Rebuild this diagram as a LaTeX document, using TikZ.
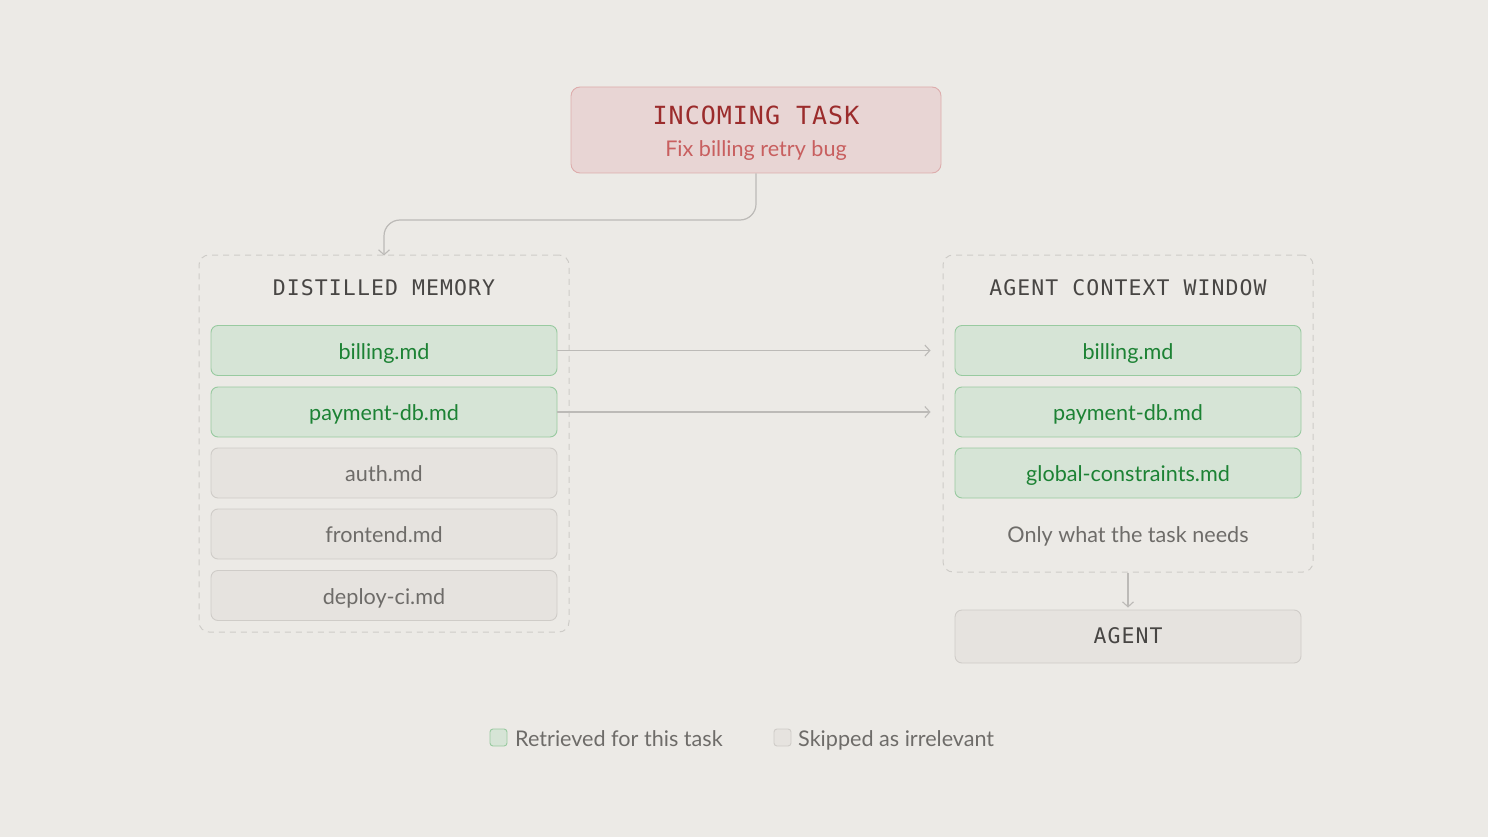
\documentclass[tikz,border=0pt]{standalone}
\usepackage{fontspec}
\setmainfont{Lato}
\newfontfamily\monofont{DejaVu Sans Mono}
\usetikzlibrary{arrows.meta}
\definecolor{bg}{RGB}{236,234,230}
\definecolor{pinkfill}{RGB}{232,213,212}
\definecolor{pinkline}{RGB}{221,172,172}
\definecolor{taskred}{RGB}{155,44,44}
\definecolor{tasksub}{RGB}{200,95,95}
\definecolor{greenfill}{RGB}{214,228,214}
\definecolor{greenline}{RGB}{152,202,160}
\definecolor{greentext}{RGB}{28,130,52}
\definecolor{grayfill}{RGB}{230,227,223}
\definecolor{grayline}{RGB}{207,204,200}
\definecolor{graytext}{RGB}{110,108,105}
\definecolor{titletext}{RGB}{72,70,68}
\definecolor{dashline}{RGB}{206,204,200}
\definecolor{connline}{RGB}{188,186,183}
\tikzset{
  x=1pt, y=-1pt,
  sans/.style={font=\fontsize{21.6}{26}\selectfont},
  filebox/.style={draw, rounded corners=7pt, minimum width=346pt, minimum height=50pt, inner sep=0pt, line width=0.9pt, sans, text height=17pt, text depth=0pt},
  hit/.style={filebox, fill=greenfill, draw=greenline, text=greentext},
  miss/.style={filebox, fill=grayfill, draw=grayline, text=graytext},
  container/.style={draw=dashline, dashed, dash pattern=on 6pt off 5pt, rounded corners=10pt, minimum width=370pt, line width=1pt, inner sep=0pt},
  headtext/.style={text=titletext, anchor=base, inner sep=0pt, font=\monofont\addfontfeature{LetterSpace=5}\fontsize{21.5}{26}\selectfont},
  conn/.style={draw=connline, line width=1.2pt, -{Straight Barb[length=5pt,width=11pt,line width=1.1pt]}},
  legsq/.style={draw, rounded corners=3pt, minimum width=17pt, minimum height=17pt, inner sep=0pt, line width=0.9pt},
  legtext/.style={text=graytext, anchor=base west, inner sep=0pt, sans},
}
\begin{document}
\begin{tikzpicture}
\fill[bg] (0,0) rectangle (1488,837);
\useasboundingbox (0,0) rectangle (1488,837);

% task
\node[draw=pinkline, fill=pinkfill, rounded corners=9pt, minimum width=370pt, minimum height=86pt, line width=0.9pt] (task) at (756,130) {};
\node[text=taskred, anchor=base, inner sep=0pt, font=\monofont\addfontfeature{LetterSpace=4}\fontsize{25}{30}\selectfont] (tasktitle) at (756,125) {INCOMING TASK};
\node[text=tasksub, anchor=base, inner sep=0pt, sans] (tasksub) at (756,157) {Fix billing retry bug};

% containers
\node[container, minimum height=377pt] (mem) at (384,443.5) {};
\node[container, minimum height=317pt] (ctx) at (1128,413.5) {};
\node[headtext] (memtitle) at (384,295) {DISTILLED MEMORY};
\node[headtext] (ctxtitle) at (1128,295) {AGENT CONTEXT WINDOW};

% left files
\node[hit]  (l1) at (384,350.5) {billing.md};
\node[hit]  (l2) at (384,412)   {payment-db.md};
\node[miss] (l3) at (384,473)   {auth.md};
\node[miss] (l4) at (384,534)   {frontend.md};
\node[miss] (l5) at (384,595.5) {deploy-ci.md};

% right files
\node[hit] (r1) at (1128,350.5) {billing.md};
\node[hit] (r2) at (1128,412)   {payment-db.md};
\node[hit] (r3) at (1128,473)   {global-constraints.md};
\node[text=graytext, anchor=base, inner sep=0pt, sans] (note) at (1128,542) {Only what the task needs};

% agent
\node[fill=grayfill, draw=grayline, rounded corners=7pt, minimum width=346pt, minimum height=53pt, line width=0.9pt] (agent) at (1128,636.5) {};
\node[headtext] (agenttext) at (1128,643) {AGENT};

% connectors
\coordinate (bend) at (384,220);
\draw[conn, rounded corners=16pt] (task.south) |- (bend) -- ([yshift=-1pt]mem.north);
\draw[conn, shorten >=24pt] (l1.east) -- (r1.west);
\draw[conn, shorten >=24pt] (l2.east) -- (r2.west);
\draw[conn, shorten >=2pt] (ctx.south) -- (agent.north);

% legend
\node[legsq, fill=greenfill, draw=greenline] (lg1) at (498.5,737.5) {};
\node[legtext] (lt1) at (515,746) {Retrieved for this task};
\node[legsq, fill=grayfill, draw=grayline] (lg2) at (782.5,737.5) {};
\node[legtext] (lt2) at (798,746) {Skipped as irrelevant};
\end{tikzpicture}
\end{document}
